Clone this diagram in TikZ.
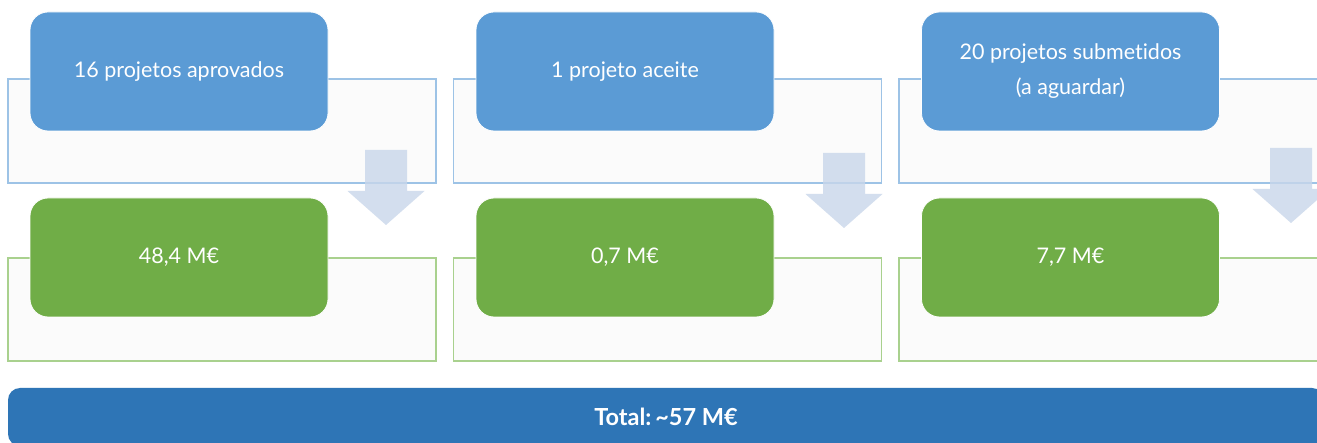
\documentclass[tikz,border=0pt]{standalone}
\usepackage{fontspec}
\setmainfont{Lato}[Ligatures={TeX,NoCommon}]
\usetikzlibrary{positioning}
\definecolor{StageBlue}{HTML}{5B9BD5}
\definecolor{AmountGreen}{HTML}{70AD47}
\definecolor{TotalBlue}{HTML}{2E75B6}
\definecolor{FrameBlue}{HTML}{9DC3E6}
\definecolor{FrameGreen}{HTML}{A9D18E}
\definecolor{FrameFill}{HTML}{FBFBFB}
\definecolor{ArrowBlue}{HTML}{C8D6EA}

\begin{document}
\begin{tikzpicture} [x=1pt,y=-1pt,
			every node/.style={align=center,rectangle,inner sep=0pt},
			frameblue/.style={draw=FrameBlue,fill=FrameFill,line width=1.2pt,minimum width=428pt,minimum height=104pt},
			framegreen/.style={draw=FrameGreen,fill=FrameFill,line width=1.2pt,minimum width=428pt,minimum height=103pt},
			stage/.style={draw=white,line width=0.8pt,fill=StageBlue,rounded corners=18pt,text=white,minimum width=298pt,minimum height=119pt,font=\fontsize{21.5}{35}\selectfont},
			amount/.style={stage,fill=AmountGreen},
			total/.style={fill=TotalBlue,rounded corners=12pt,text=white,minimum width=1316pt,minimum height=58pt,font=\fontsize{23.5}{28}\selectfont\bfseries},
			flowarrow/.pic={\fill[ArrowBlue,opacity=0.8] (-21,0) -- (21,0) -- (21,41) -- (38.5,41) -- (0,75) -- (-38.5,41) -- (-21,41) -- cycle;}
		]
			\clip (0,0) rectangle (1317,443);
			\fill[white] (0,0) rectangle (1317,443);
			\node at (222,131) [frameblue] (frame1) {};
			\node at (667.5,131) [frameblue] (frame2) {};
			\node at (1113,131) [frameblue] (frame3) {};
			\node at (222,309.5) [framegreen] (gframe1) {};
			\node at (667.5,309.5) [framegreen] (gframe2) {};
			\node at (1113,309.5) [framegreen] (gframe3) {};
			\node at (179,71.5) [stage] (approved) {16 projetos aprovados};
			\node at (625,71.5) [stage] (accepted) {1 projeto aceite};
			\node at (1070.5,71.5) [stage] (submitted) {20 projetos submetidos \\ (a aguardar)};
			\node at (179,257.5) [amount] (amount1) {48,4 M€};
			\node at (625,257.5) [amount] (amount2) {0,7 M€};
			\node at (1070.5,257.5) [amount] (amount3) {7,7 M€};
			\pic at (386,150) {flowarrow};
			\pic at (844,153) {flowarrow};
			\pic at (1291,148) {flowarrow};
			\node at (666,417) [total] (total) {Total:\,\textasciitilde57 M€};
		\end{tikzpicture}
\end{document}
